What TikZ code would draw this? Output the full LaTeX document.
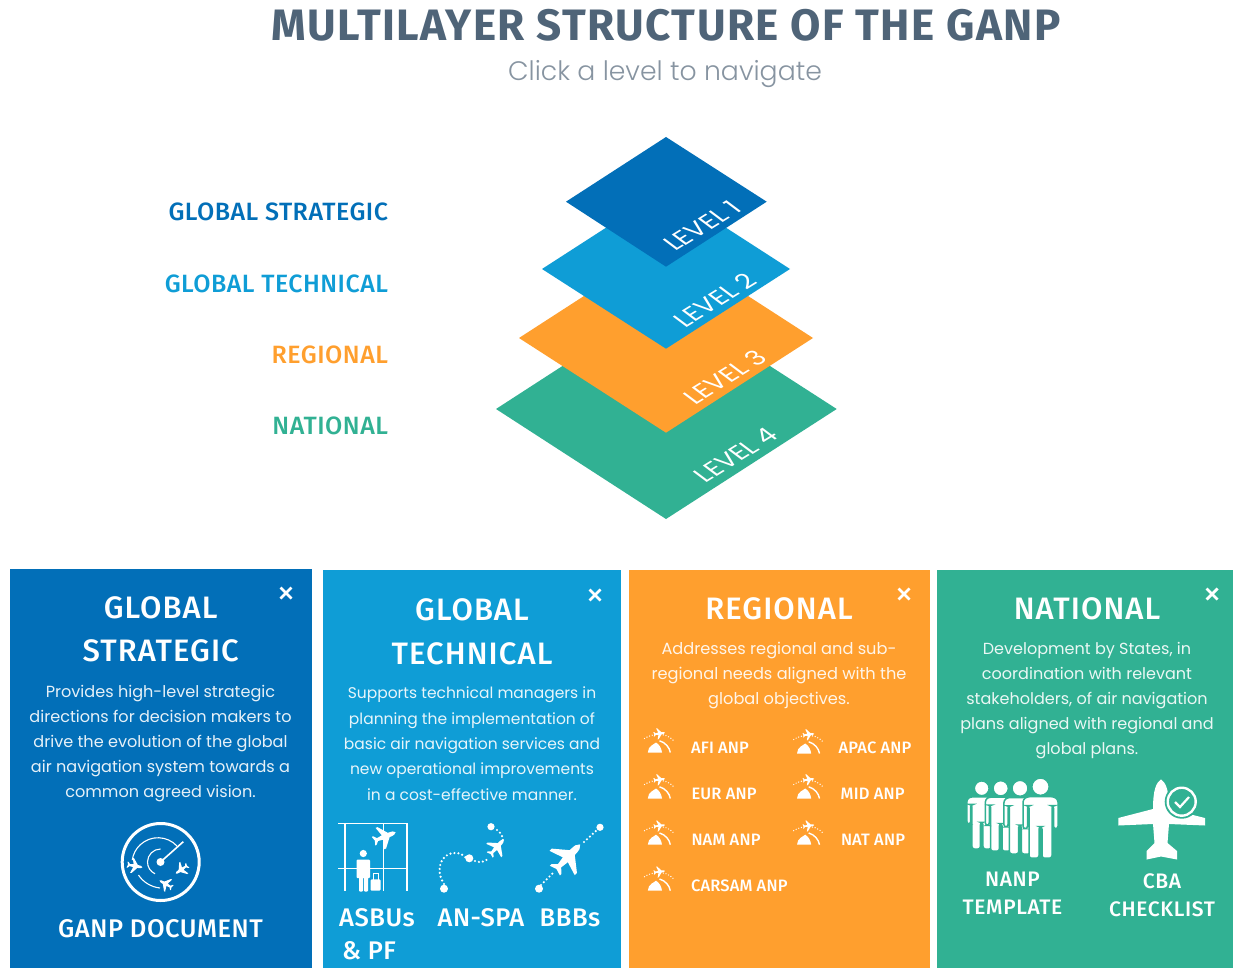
\documentclass[tikz,border=0pt]{standalone}
\usepackage{fontspec}
\setmainfont{Poppins}
\newfontfamily\din{Fira Sans Medium}
\newfontfamily\dinb{Fira Sans}
\newfontfamily\mont{Poppins Light}
\newfontfamily\mreg{Poppins}
\definecolor{cblue}{HTML}{026FB8}
\definecolor{clight}{HTML}{0F9DD6}
\definecolor{corange}{HTML}{FF9F2E}
\definecolor{cgreen}{HTML}{31B193}
\definecolor{ctitle}{HTML}{4F6478}
\definecolor{csub}{HTML}{8794A1}
\tikzset{
  txt/.style={inner sep=0pt,outer sep=0pt,align=center,anchor=center},
  paneltitle/.style={txt,text=white,font=\din\addfontfeature{LetterSpace=3.5}\fontsize{31}{31}\selectfont},
  bodytxt/.style={txt,text=white,text opacity=.9,text height=13pt,text depth=2pt,font=\mreg\fontsize{#1}{#1}\selectfont},
  captxt/.style={txt,text=white,font=\din\addfontfeature{LetterSpace=2}\fontsize{25.5}{25.5}\selectfont},
  capsmall/.style={txt,text=white,font=\din\addfontfeature{LetterSpace=3}\fontsize{21}{21}\selectfont},
  smalltxt/.style={txt,anchor=west,text=white,font=\din\addfontfeature{LetterSpace=1}\fontsize{16.5}{16.5}\selectfont},
  sidetxt/.style={txt,anchor=east,font=\din\addfontfeature{LetterSpace=2}\fontsize{25}{25}\selectfont},
  dotline/.style={white,line width=2.4pt,line cap=round,dash pattern=on 0pt off 4pt},
  closex/.pic={\draw[white,line width=2.8pt] (-5.5,-5.5)--(5.5,5.5) (-5.5,5.5)--(5.5,-5.5);},
  plane/.pic={\fill[white] (0,-10) .. controls (1.5,-9) and (2,-7.5) .. (2,-3.5) -- (10,3) -- (10,4.8) -- (2,2.2) -- (1.3,7) -- (4,9.5) -- (4,10.8) -- (0,9.5) -- (-4,10.8) -- (-4,9.5) -- (-1.3,7) -- (-2,2.2) -- (-10,4.8) -- (-10,3) -- (-2,-3.5) .. controls (-2,-7.5) and (-1.5,-9) .. (0,-10) -- cycle;},
  globe/.pic={
    \pic[rotate=-82,scale=.55] {plane};
    \draw[white,line width=1.4pt,line cap=round,dash pattern=on 0pt off 2.8pt] (-15,5) .. controls (-9,1) and (5,-3) .. (14.5,7.5);
    \draw[white,line width=1.4pt] (0,7.3) .. controls (6,9) and (10,14) .. (10.8,19);
    \fill[white] (-11.7,19) .. controls (-11.5,16) and (-10,13) .. (-8,12) .. controls (-6,11) and (-4.5,9.5) .. (-3.5,9) .. controls (0,11) and (2,15) .. (2.5,19) -- cycle;
  },
  person/.pic={
    \fill[white,draw=cgreen,line width=1.5pt] (0,0) circle (8.7);
    \fill[white,draw=cgreen,line width=1.5pt,rounded corners=2.5pt] (-13.5,10) -- (13.5,10) -- (17.5,13) -- (17.5,42) -- (13,42) -- (13,19) -- (11.5,19) -- (11.5,71.5) -- (1.5,71.5) -- (1.5,40) -- (-1.5,40) -- (-1.5,71.5) -- (-11.5,71.5) -- (-11.5,19) -- (-13,19) -- (-13,42) -- (-17.5,42) -- (-17.5,13) -- cycle;
  }
}
\newcommand{\lvl}[5]{\begin{scope}[shift={(#2,#3)},cm={.86,.53,-.8,.6,(0,0)}]\node[txt,transform shape,text=white,font=\mreg\fontsize{25}{25}\selectfont] (#1) at (0,0) {#4#5};\end{scope}}
\begin{document}
\begin{tikzpicture}[x=1pt,y=-1pt]
\path[use as bounding box,fill=white] (0,0) rectangle (1233,968);
% title
\node[txt,text=ctitle,font=\dinb\addfontfeature{LetterSpace=3.2}\bfseries\fontsize{44}{44}\selectfont] (title) at (666,25.5) {MULTILAYER STRUCTURE OF THE GANP};
\node[txt,text=csub,font=\mont\fontsize{26.7}{26.7}\selectfont] (subtitle) at (665,74.5) {Click a level to navigate};
% side labels
\node[sidetxt,text=cblue] (s1) at (388,211.5) {GLOBAL STRATEGIC};
\node[sidetxt,text=clight] (s2) at (388,283.5) {GLOBAL TECHNICAL};
\node[sidetxt,text=corange] (s3) at (388,354.5) {REGIONAL};
\node[sidetxt,text=cgreen] (s4) at (388,426) {NATIONAL};
% layers
\fill[cgreen] (666,299)--(836.7,409)--(666,519)--(496,409)--cycle;
\lvl{l4}{736}{455}{LEVEL }{4}
\fill[corange] (666,243)--(813,338)--(666,432.7)--(519,338)--cycle;
\lvl{l3}{725}{377}{LEVEL }{3}
\fill[clight] (666,189)--(790,269)--(666,348.7)--(542,269)--cycle;
\lvl{l2}{714.5}{300}{LEVEL }{2}
\fill[cblue] (666,137)--(766.7,201.7)--(666,266.7)--(566,201.7)--cycle;
\lvl{l1}{702}{225.5}{LEVEL }{1}
% panels
\fill[cblue] (10,569) rectangle (312,968);
\fill[clight] (323,570) rectangle (621,968);
\fill[corange] (629,570) rectangle (930,968);
\fill[cgreen] (937,570) rectangle (1233,968);
\pic at (286,593) {closex};
\pic at (595,595) {closex};
\pic at (904,594) {closex};
\pic at (1212,594) {closex};
% panel 1
\node[paneltitle] (p1a) at (160.7,607.5) {GLOBAL};
\node[paneltitle] (p1b) at (160.7,651) {STRATEGIC};
\foreach \n/\y/\t in {a/692/Provides high-level strategic,b/717/directions for decision makers to,c/742/drive the evolution of the global,d/767/air navigation system towards a,e/792/common agreed vision.}
  \node[bodytxt=16.1] (b1\n) at (160.5,\y) {\t};
\draw[white,line width=3pt] (160.7,862) circle (38.5);
\fill[white] (160.5,862) circle (4);
\draw[white,line width=1.6pt] (160.5,862) -- (183.3,841.7);
\draw[white,line width=1.1pt] (160.5,849) arc (-90:-245:13);
\draw[white,line width=1.1pt] (177,846) arc (-43:-172:26);
\draw[white,line width=1.1pt] (138.5,875) .. controls (143,882) and (151,887) .. (160,888);
\pic[rotate=-100,scale=.75] at (135,866) {plane};
\pic[rotate=125,scale=.7] at (181.5,869.5) {plane};
\pic[rotate=60,scale=.7] at (165.7,884) {plane};
\node[captxt] (p1c) at (160.5,929) {GANP DOCUMENT};
% panel 2
\node[paneltitle] (p2a) at (472,610) {GLOBAL};
\node[paneltitle] (p2b) at (472,653.5) {TECHNICAL};
\foreach \n/\y/\t in {a/693/Supports technical managers in,b/718.5/planning the implementation of,c/744/basic air navigation services and,d/769/new operational improvements,e/794.5/in a cost-effective manner.}
  \node[bodytxt=15.5] (b2\n) at (472,\y) {\t};
\draw[white,line width=1.5pt] (338.3,823.5)--(407.5,823.5) (345,823.5)--(345,891) (383.3,823.5)--(383.3,891) (407,823.5)--(407,891) (338.3,868.3)--(407.5,868.3);
\fill[white] (363.3,853.5) circle (3.6);
\fill[white,rounded corners=1pt] (356.5,859.5) rectangle (370,878) (359,870) rectangle (363,891.5) (364,870) rectangle (368,891.5);
\draw[white,line width=.9pt] (373,880) -- (373,873) -- (378,873) -- (378,880);
\fill[white,rounded corners=1pt] (370.7,879.3) rectangle (380.5,890.7);
\pic[rotate=-68,scale=1.15] at (385,836.5) {plane};
\fill[white] (444,888.7) circle (4) (469.3,858.3) circle (4) (491,826.7) circle (3.6);
\draw[dotline] (444,884) .. controls (434,868) and (442,853) .. (455,853) .. controls (460,853) and (464,855) .. (466,858);
\draw[dotline] (475,861) .. controls (480,863) and (485,862) .. (489,858);
\draw[dotline] (497,830) .. controls (501,833) and (503,836) .. (503,841);
\pic[rotate=-42,scale=1] at (497,847) {plane};
\fill[white] (539,888.7) circle (4) (600,827.3) circle (3.6);
\draw[dotline] (541,885) -- (553,873);
\draw[dotline] (584,842) -- (597,830);
\pic[rotate=-44,scale=1.75] at (568,857) {plane};
\node[captxt] (p2c) at (377,918) {ASBUs};
\node[captxt] (p2d) at (369,951) {\& PF};
\node[captxt] (p2e) at (481,918) {AN-SPA};
\node[captxt] (p2f) at (570,918) {BBBs};
% panel 3
\node[paneltitle] (p3a) at (779,608.5) {REGIONAL};
\foreach \n/\y/\t in {a/649/Addresses regional and sub-,b/674/regional needs aligned with the,c/699/global objectives.}
  \node[bodytxt=16.2] (b3\n) at (779,\y) {\t};
\pic at (659.5,733.5) {globe};
\pic at (808.7,734.5) {globe};
\pic at (659.5,779.5) {globe};
\pic at (808.7,779.5) {globe};
\pic at (659.5,825.7) {globe};
\pic at (808.7,825.7) {globe};
\pic at (659.5,871.7) {globe};
\node[smalltxt] (r1) at (691,747.5) {AFI ANP};
\node[smalltxt] (r2) at (838.7,747.5) {APAC ANP};
\node[smalltxt] (r3) at (691.5,793.5) {EUR ANP};
\node[smalltxt] (r4) at (840.7,793.5) {MID ANP};
\node[smalltxt] (r5) at (691.5,840) {NAM ANP};
\node[smalltxt] (r6) at (841,840) {NAT ANP};
\node[smalltxt] (r7) at (691,886) {CARSAM ANP};
% panel 4
\node[paneltitle] (p4a) at (1087,608.5) {NATIONAL};
\foreach \n/\y/\t in {a/649/{Development by States, in},b/674/coordination with relevant,c/699/{stakeholders, of air navigation},d/724/plans aligned with regional and,e/749/global plans.}
  \node[bodytxt=16.05] (b4\n) at (1087,\y) {\t};
\pic[scale=.85] at (981.7,788.3) {person};
\pic[scale=.88] at (1000.7,788.3) {person};
\pic[scale=.92] at (1020,788.3) {person};
\pic at (1040.5,786.7) {person};
\fill[white] (1161,779.3) .. controls (1166,783) and (1169,790) .. (1169,809) -- (1205,818) -- (1205,825.5) -- (1169,824) -- (1167.5,843) -- (1177,851) -- (1177,859.5) -- (1161,856.5) -- (1146.7,859.5) -- (1146.7,851) -- (1154.5,843) -- (1153,824) -- (1118.3,825.5) -- (1118.3,818) -- (1153,809) .. controls (1153,790) and (1156,783) .. (1161,779.3) -- cycle;
\fill[cgreen] (1181.7,801.7) circle (17);
\draw[white,line width=2.4pt] (1181.7,801.7) circle (14);
\draw[white,line width=2.2pt] (1175,802) -- (1180,807) -- (1189,797);
\node[capsmall] (p4b) at (1012.5,879.5) {NANP};
\node[capsmall] (p4c) at (1012.5,907.5) {TEMPLATE};
\node[capsmall] (p4d) at (1162,881.5) {CBA};
\node[capsmall] (p4e) at (1162,909.5) {CHECKLIST};
\end{tikzpicture}
\end{document}
